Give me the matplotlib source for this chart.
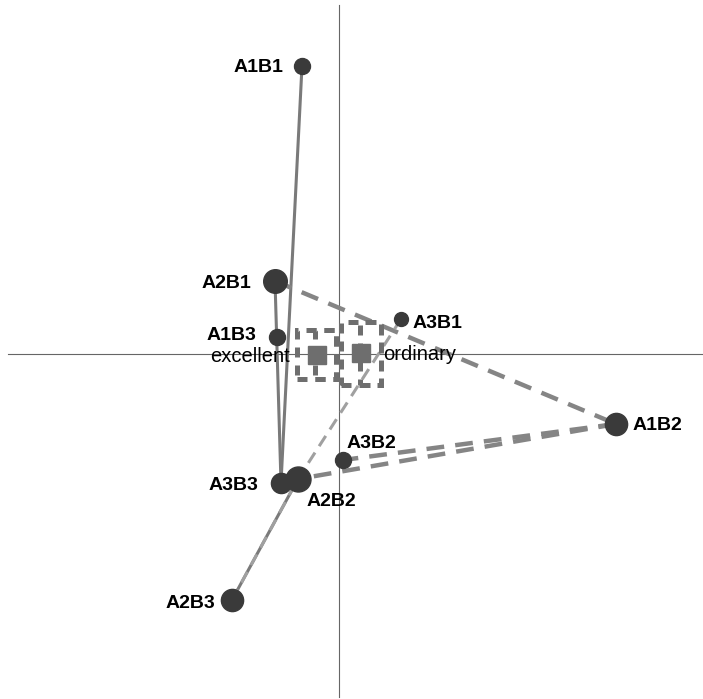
import matplotlib.pyplot as plt
from matplotlib.patches import Rectangle

plt.rcParams['font.family'] = ['Liberation Sans', 'DejaVu Sans']

# row points (factor combinations) on the two CA dimensions
labels = ['A1B1', 'A2B1', 'A1B3', 'A3B1', 'A1B2', 'A3B2', 'A3B3', 'A2B2', 'A2B3']
dim1 = [-0.185, -0.32, -0.31, 0.31, 1.385, 0.02, -0.29, -0.205, -0.535]
dim2 = [1.44, 0.365, 0.085, 0.175, -0.35, -0.53, -0.645, -0.625, -1.23]
mass = [11.5, 17, 11.5, 10, 16, 11.5, 14.5, 18, 16]

# column points with the extent of their two regions (left, right, bottom, top)
cols = ['excellent', 'ordinary']
col_x = [-0.11, 0.1125]
col_y = [-0.005, 0.005]
outer_box = [(-0.1, 0.095, -0.12, 0.125), (-0.1, 0.1, -0.16, 0.155)]
inner_box = [(-0.01, 0.095, -0.12, 0.125), (-0.008, 0.1, -0.16, 0.155)]

solid_links = [('A1B1', 'A3B3'), ('A2B1', 'A3B3'), ('A2B3', 'A2B2')]
dashed_links = [('A2B1', 'A1B2'), ('A1B2', 'A3B2'), ('A1B2', 'A2B2')]
light_links = [('A3B1', 'A2B2'), ('A2B3', 'A2B2')]

# label offsets in pixels
offsets = {
    'A1B1': (-19, -2, 'right'), 'A2B1': (-24, -2, 'right'),
    'A1B3': (-21, 2, 'right'), 'A3B1': (12, -4, 'left'),
    'A1B2': (17, -2, 'left'), 'A3B2': (4, 17, 'left'),
    'A3B3': (-23, -3, 'right'), 'A2B2': (9, -23, 'left'),
    'A2B3': (-17, -3, 'right'),
}

pos = {n: (x, y) for n, x, y in zip(labels, dim1, dim2)}

fig = plt.figure(figsize=(7.03, 6.99), dpi=100)
ax = fig.add_axes([0, 0, 1, 1])
ax.set_xlim(-1.695, 1.82)
ax.set_ylim(-1.725, 1.77)
ax.axis('off')

ax.plot([-1.655, 1.82], [0, 0], color='#666666', lw=0.8, zorder=1)
ax.plot([0, 0], [-1.715, 1.745], color='#666666', lw=0.8, zorder=1)

for a, b in solid_links:
    ax.plot([pos[a][0], pos[b][0]], [pos[a][1], pos[b][1]],
            color='#7a7a7a', lw=2.2, zorder=2, solid_capstyle='butt')
for a, b in dashed_links:
    ax.plot([pos[a][0], pos[b][0]], [pos[a][1], pos[b][1]],
            color='#858585', lw=3.2, ls=(0, (4, 2.5)), zorder=2)
for a, b in light_links:
    ax.plot([pos[a][0], pos[b][0]], [pos[a][1], pos[b][1]],
            color='#a0a0a0', lw=2.2, ls=(0, (4, 2.5)), zorder=2)

for n, x, y, m in zip(labels, dim1, dim2, mass):
    ax.plot(x, y, 'o', color='#3a3a3a', markersize=m, zorder=4)
    dx, dy, ha = offsets[n]
    ax.annotate(n, (x, y), xytext=(dx * 0.72, dy * 0.72), textcoords='offset points',
                ha=ha, va='center', fontsize=14, fontweight='bold', zorder=5)

for i, c in enumerate(cols):
    cx, cy = col_x[i], col_y[i]
    for l, r, b, t in [outer_box[i], inner_box[i]]:
        ax.add_patch(Rectangle((cx + l, cy + b), r - l, t - b, fill=False,
                               ec='#6e6e6e', lw=3.6, ls=(0, (2, 1.6)), zorder=3))
    ax.plot(cx, cy, 's', color='#6e6e6e', markersize=12.5, zorder=3)

ax.text(col_x[0] - 0.135, -0.015, cols[0], ha='right', va='center',
        fontsize=14.5, zorder=5)
ax.text(col_x[1] + 0.11, 0.0, cols[1], ha='left', va='center',
        fontsize=14.5, zorder=5)

fig.savefig('out.png', dpi=100, facecolor='white')
